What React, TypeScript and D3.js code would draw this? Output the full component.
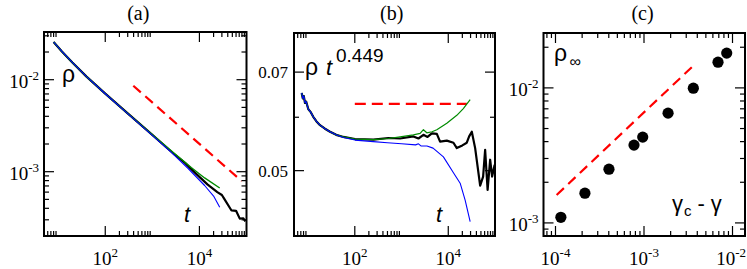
import React from "react";
import * as d3 from "d3";

// ---- panel (a): rho(t), log-log ----
const aBlackT = [8, 12, 20, 40, 100, 300, 1000, 3000, 5000, 8000, 15000, 24000, 30000, 34000, 48000, 60000, 72000, 85000, 95000];
const aBlackRho = [0.0257, 0.0203, 0.0154, 0.0108, 0.00705, 0.0043, 0.00251, 0.00153, 0.00124, 0.000977, 0.000724, 0.0006, 0.000558, 0.000503, 0.000379, 0.000376, 0.000309, 0.000312, 0.000289];
const aGreenT = [8, 12, 20, 40, 100, 300, 1000, 3000, 6700, 12900, 27000];
const aGreenRho = [0.0257, 0.0203, 0.0154, 0.0108, 0.00705, 0.0043, 0.00252, 0.00157, 0.00111, 0.000855, 0.000665];
const aBlueT = [8, 12, 20, 40, 100, 300, 1000, 2500, 5700, 12900, 20000, 27000];
const aBlueRho = [0.0257, 0.0203, 0.0154, 0.0108, 0.00704, 0.00428, 0.00248, 0.00163, 0.00109, 0.000708, 0.000544, 0.00041];
const aRefT = [394, 79000];
const aRefRho = [0.0086, 0.00079];

// ---- panel (b): rho t^0.449 ----
const bBlackT = [7.3, 7.7, 8.1, 8.6, 9.1, 10.1, 11.5, 12.9, 15, 18, 23, 29.5, 40, 57, 101, 250, 523, 931, 1795, 2300, 2940, 3600, 4450, 5690, 6680, 9310, 12900, 15240, 20000, 24900, 28000, 31900, 37600, 48100, 55700, 61500, 69500, 78700, 86800, 98200];
const bBlackV = [0.0652, 0.064, 0.0645, 0.063, 0.0633, 0.0617, 0.061, 0.0601, 0.0592, 0.0584, 0.0577, 0.0571, 0.0565, 0.0561, 0.0557, 0.0556, 0.0559, 0.0558, 0.0562, 0.0558, 0.0565, 0.0561, 0.0568, 0.0567, 0.0552, 0.0554, 0.055, 0.054, 0.0545, 0.055, 0.0562, 0.0571, 0.054, 0.0475, 0.049, 0.0537, 0.0468, 0.0519, 0.049, 0.051];
const bGreenT = [7.3, 7.7, 8.1, 8.6, 9.1, 10.1, 11.5, 12.9, 15, 18, 23, 29.5, 40, 57, 101, 250, 523, 931, 1795, 2500, 2940, 3470, 4500, 5690, 9310, 15240, 21000, 29400];
const bGreenV = [0.0652, 0.064, 0.0645, 0.063, 0.0633, 0.0617, 0.061, 0.0601, 0.0592, 0.0584, 0.0577, 0.0571, 0.0565, 0.0561, 0.0557, 0.0556, 0.0558, 0.0561, 0.0565, 0.0568, 0.0575, 0.0569, 0.0571, 0.0575, 0.0588, 0.0604, 0.0618, 0.0637];
const bBlueT = [7.3, 7.7, 8.1, 8.6, 9.1, 10.1, 11.5, 12.9, 15, 18, 23, 29.5, 40, 57, 101, 250, 500, 1000, 2000, 2300, 2600, 3500, 4730, 7870, 13000, 17960, 22960, 29400];
const bBlueV = [0.0652, 0.064, 0.0645, 0.063, 0.0633, 0.0617, 0.061, 0.0601, 0.0592, 0.0584, 0.0577, 0.0571, 0.0565, 0.056, 0.0555, 0.0552, 0.055, 0.0548, 0.0546, 0.0548, 0.0544, 0.0544, 0.054, 0.0524, 0.0496, 0.0479, 0.0452, 0.042];
const bRefT = [100, 25000];
const bRefV = [0.0628, 0.0628];

// ---- panel (c): rho_inf vs gamma_c - gamma ----
const cGap = [1.15e-4, 2.15e-4, 4.02e-4, 7.71e-4, 9.67e-4, 1.87e-3, 3.61e-3, 6.86e-3, 8.6e-3];
const cRho = [1.1e-3, 1.66e-3, 2.5e-3, 3.77e-3, 4.32e-3, 6.5e-3, 9.95e-3, 1.55e-2, 1.81e-2];
const cFitX = [1.03e-4, 3.61e-3];
const cFitY = [1.61e-3, 1.46e-2];

// ---- ticks ----
const tMajor = [1e2, 1e4];
const tMinor = [5, 6, 7, 8, 9, 200, 300, 400, 500, 600, 700, 800, 900, 2e4, 3e4, 4e4, 5e4, 6e4, 7e4, 8e4, 9e4];
const aYMajor = [1e-3, 1e-2];
const aYMinor = [2e-4, 3e-4, 4e-4, 5e-4, 6e-4, 7e-4, 8e-4, 9e-4, 2e-3, 3e-3, 4e-3, 5e-3, 6e-3, 7e-3, 8e-3, 9e-3, 2e-2, 3e-2];
const bYMajor = [0.05, 0.07];
const bYMinor = [0.06];
const bYLabels = ["0.05", "0.07"];
const cXMajor = [1e-4, 1e-3, 1e-2];
const cXMinor = [8e-5, 9e-5, 2e-4, 3e-4, 4e-4, 5e-4, 6e-4, 7e-4, 8e-4, 9e-4, 2e-3, 3e-3, 4e-3, 5e-3, 6e-3, 7e-3, 8e-3, 9e-3];
const cYMajor = [1e-3, 1e-2];
const cYMinor = [9e-4, 2e-3, 3e-3, 4e-3, 5e-3, 6e-3, 7e-3, 8e-3, 9e-3, 2e-2];

const SERIF = "Liberation Serif, DejaVu Serif, serif";
const SANS = "Liberation Sans, Arial, sans-serif";
const GREEN = "rgb(0,139,0)";

const App = () => {
  const svgRef = React.useRef<SVGSVGElement>(null);

  React.useEffect(() => {
    const svg = d3.select(svgRef.current);
    svg.selectAll("*").remove();

    const boxA = { l: 44, r: 246.5, t: 32, b: 236 };
    const boxB = { l: 294, r: 495, t: 33, b: 236 };
    const boxC = { l: 543.5, r: 745, t: 33, b: 236 };

    const xA = d3.scaleLog().domain([5, 1e5]).range([boxA.l, boxA.r]);
    const yA = d3.scaleLog().domain([2e-4, 3.3e-2]).range([boxA.b, boxA.t]);
    const xB = d3.scaleLog().domain([5, 1e5]).range([boxB.l, boxB.r]);
    const yB = d3.scaleLog().domain([0.04, 0.08]).range([boxB.b, boxB.t]);
    const xC = d3.scaleLog().domain([7.32e-5, 1.384e-2]).range([boxC.l, boxC.r]);
    const yC = d3.scaleLog().domain([8e-4, 2.55e-2]).range([boxC.b, boxC.t]);

    // clip paths
    const defs = svg.append("defs");
    [["clipA", boxA], ["clipB", boxB], ["clipC", boxC]].forEach(([id, bx]: any) => {
      defs.append("clipPath").attr("id", id)
        .append("rect").attr("x", bx.l).attr("y", bx.t)
        .attr("width", bx.r - bx.l).attr("height", bx.b - bx.t);
    });

    const drawLine = (xs, ys, x, y, clip, color, width, dash?) => {
      const pts = xs.map((v, i) => [v, ys[i]]);
      svg.append("path")
        .datum(pts)
        .attr("clip-path", `url(#${clip})`)
        .attr("fill", "none")
        .attr("stroke", color)
        .attr("stroke-width", width)
        .attr("stroke-linejoin", "round")
        .attr("stroke-dasharray", dash || null)
        .attr("d", d3.line().x((d) => x(d[0])).y((d) => y(d[1])));
    };

    // ticks on all four sides, pointing in
    const drawTicks = (bx, x, y, xMaj, xMin, yMaj, yMin) => {
      const g = svg.append("g").attr("stroke", "#000").attr("stroke-width", 1.2);
      const tick = (x1, y1, x2, y2) =>
        g.append("line").attr("x1", x1).attr("y1", y1).attr("x2", x2).attr("y2", y2);
      xMaj.forEach((v) => { tick(x(v), bx.b, x(v), bx.b - 10); tick(x(v), bx.t, x(v), bx.t + 10); });
      xMin.forEach((v) => { tick(x(v), bx.b, x(v), bx.b - 5); tick(x(v), bx.t, x(v), bx.t + 5); });
      yMaj.forEach((v) => { tick(bx.l, y(v), bx.l + 10, y(v)); tick(bx.r, y(v), bx.r - 10, y(v)); });
      yMin.forEach((v) => { tick(bx.l, y(v), bx.l + 5, y(v)); tick(bx.r, y(v), bx.r - 5, y(v)); });
    };

    const powLabel = (v) => String(Math.round(Math.log10(v)));
    const expText = (px, py, anchor, exp) => {
      const t = svg.append("text").attr("x", px).attr("y", py)
        .attr("text-anchor", anchor).attr("font-family", SERIF).attr("font-size", 19);
      t.append("tspan").text("10");
      t.append("tspan").attr("font-size", 13).attr("dy", -8).text(exp);
      // keep the label inside the picture
      const bb = (t.node() as SVGTextElement).getBBox();
      if (bb.x + bb.width > 746) t.attr("x", px - (bb.x + bb.width - 746));
    };

    const frame = (bx) =>
      svg.append("rect").attr("x", bx.l).attr("y", bx.t)
        .attr("width", bx.r - bx.l).attr("height", bx.b - bx.t)
        .attr("fill", "none").attr("stroke", "#000").attr("stroke-width", 2);

    // ----- (a) -----
    drawLine(aRefT, aRefRho, xA, yA, "clipA", "red", 2.2, "10,6");
    drawLine(aBlackT, aBlackRho, xA, yA, "clipA", "#000", 2.2);
    drawLine(aGreenT, aGreenRho, xA, yA, "clipA", GREEN, 1.4);
    drawLine(aBlueT, aBlueRho, xA, yA, "clipA", "blue", 1.1);
    drawTicks(boxA, xA, yA, tMajor, tMinor, aYMajor, aYMinor);
    frame(boxA);
    aYMajor.forEach((v) => expText(boxA.l - 5, yA(v) + 8, "end", powLabel(v)));
    tMajor.forEach((v) => expText(xA(v), 265, "middle", powLabel(v)));

    // ----- (b) -----
    drawLine(bRefT, bRefV, xB, yB, "clipB", "red", 2.2, "11,6");
    drawLine(bBlackT, bBlackV, xB, yB, "clipB", "#000", 2.2);
    drawLine(bGreenT, bGreenV, xB, yB, "clipB", GREEN, 1.2);
    drawLine(bBlueT, bBlueV, xB, yB, "clipB", "blue", 1.1);
    drawTicks(boxB, xB, yB, tMajor, tMinor, bYMajor, bYMinor);
    frame(boxB);
    bYMajor.forEach((v, i) =>
      svg.append("text").attr("x", boxB.l - 6).attr("y", yB(v) + 6)
        .attr("text-anchor", "end").attr("font-family", SERIF).attr("font-size", 17)
        .text(bYLabels[i]));
    tMajor.forEach((v) => expText(xB(v), 265, "middle", powLabel(v)));

    // ----- (c) -----
    drawLine(cFitX, cFitY, xC, yC, "clipC", "red", 2.2, "10,6");
    svg.append("g").selectAll("circle")
      .data(cGap.map((g, i) => [g, cRho[i]]))
      .enter().append("circle")
      .attr("cx", (d) => xC(d[0])).attr("cy", (d) => yC(d[1]))
      .attr("r", 5.6).attr("fill", "#000");
    drawTicks(boxC, xC, yC, cXMajor, cXMinor, cYMajor, cYMinor);
    frame(boxC);
    cYMajor.forEach((v) => expText(boxC.l - 5, yC(v) + 8, "end", powLabel(v)));
    cXMajor.forEach((v) => expText(xC(v), 265, "middle", powLabel(v)));

    // ----- titles -----
    [["(a)", 138.3], ["(b)", 391.7], ["(c)", 642.5]].forEach(([s, x]: any) =>
      svg.append("text").attr("x", x).attr("y", 20).attr("text-anchor", "middle")
        .attr("font-family", SERIF).attr("font-size", 20).text(s));

    // ----- annotations -----
    const note = (x, y, s, size, italic?) =>
      svg.append("text").attr("x", x).attr("y", y).attr("font-family", SANS)
        .attr("font-size", size).attr("font-style", italic ? "italic" : "normal").text(s);
    note(62, 81.5, "ρ", 23);
    note(184, 222, "t", 22, true);
    note(305, 75, "ρ", 23);
    note(326, 75, "t", 22, true);
    note(336, 61.5, "0.449", 19);
    note(436, 222, "t", 22, true);
    note(554, 61, "ρ", 23);
    note(569.5, 67, "∞", 16);
    const gam = svg.append("text").attr("x", 672).attr("y", 211)
      .attr("font-family", SANS).attr("font-size", 22);
    gam.append("tspan").text("γ");
    gam.append("tspan").attr("font-size", 15).attr("dx", 1).attr("dy", 5).text("c");
    gam.append("tspan").attr("dy", -5).attr("dx", 6).text("-");
    gam.append("tspan").attr("dx", 6).text("γ");
  }, []);

  return (
    <svg
      ref={svgRef}
      width={747}
      height={269}
      style={{ position: "absolute", left: 0, top: 0, background: "#fff" }}
    />
  );
};

export default App;
